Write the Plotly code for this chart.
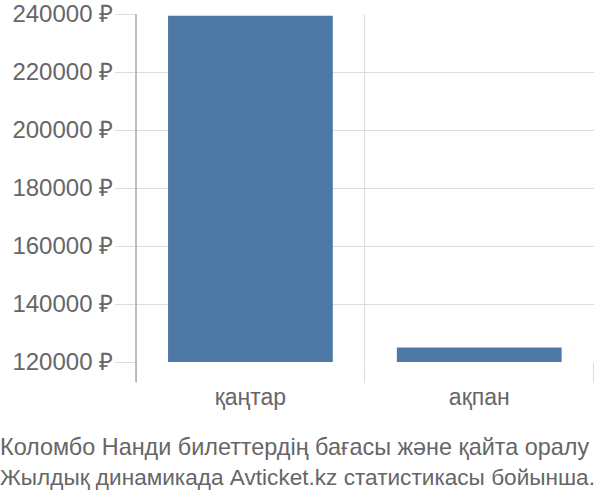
import plotly.graph_objects as go

categories = ["қаңтар", "ақпан"]
prices = [239400, 125000]
y_ticks = [120000, 140000, 160000, 180000, 200000, 220000, 240000]
y_tick_labels = [f"{v} ₽" for v in y_ticks]
caption_line1 = "Коломбо Нанди билеттердің бағасы және қайта оралу"
caption_line2 = "Жылдық динамикада Avticket.kz статистикасы бойынша."

PLOT_H = 348

fig = go.Figure()
fig.add_trace(go.Bar(
    x=categories, y=prices, width=0.72,
    marker=dict(color="#4e79a7", line=dict(width=0)),
    hoverinfo="skip",
))

fig.update_layout(
    width=600, height=500,
    margin=dict(l=136, r=6, t=14, b=138, autoexpand=False),
    paper_bgcolor="white", plot_bgcolor="white",
    font=dict(family="Liberation Sans, Arial, sans-serif", size=23, color="#666666"),
    showlegend=False,
    xaxis=dict(
        type="category",
        range=[-0.5, 1.5015],
        tickson="boundaries",
        showgrid=True, gridcolor="#dddddd", gridwidth=1,
        zeroline=False, showline=False, automargin=False,
        ticks="outside", ticklen=20, tickcolor="#dddddd", tickwidth=1,
        ticklabelstandoff=19,
        tickfont=dict(size=23, color="#666666"),
    ),
    yaxis=dict(
        range=[120000, 240000],
        tickvals=y_ticks, ticktext=y_tick_labels,
        showgrid=True, gridcolor="#dddddd", gridwidth=1,
        zeroline=False, automargin=False,
        ticks="outside", ticklen=20, tickcolor="#dddddd",
        ticklabelstandoff=-3,
        ticklabeloverflow="allow",
        showline=False,
        tickfont=dict(size=24, color="#666666"),
    ),
    title=dict(
        text=(f'<span style="font-size:23.4px">{caption_line1}</span><br>'
              f'<span style="font-size:22.6px">{caption_line2}</span>'),
        x=0, xref="container", xanchor="left",
        y=0.0896, yref="container", yanchor="middle",
        font=dict(size=23, color="#666666"),
        automargin=False,
    ),
)
fig.add_shape(type="line", xref="paper", yref="paper", x0=0, x1=0, y0=-20 / PLOT_H, y1=1,
              line=dict(color="#aaaaaa", width=1.5))

fig.write_html("out.html", config={"displayModeBar": False},
               post_script="document.body.style.margin='0';")
